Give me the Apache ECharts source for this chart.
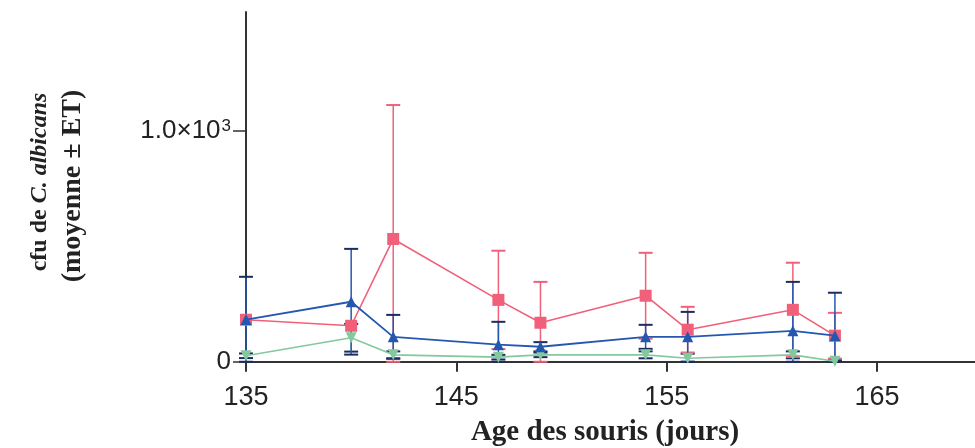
<!DOCTYPE html>
<html>
<head>
<meta charset="utf-8">
<script src="https://cdn.jsdelivr.net/npm/echarts@6/dist/echarts.min.js"></script>
<style>
  html, body { margin: 0; padding: 0; background: #ffffff; }
  #chart { width: 975px; height: 448px; }
</style>
</head>
<body>
<div id="chart"></div>
<script>
// Age of the mice (days) at each sampling point
const ages = [135, 140, 142, 147, 149, 154, 156, 161, 163];

// C. albicans cfu, mean and standard error per group
const redMean  = [182, 156, 532, 268, 169, 286, 139, 225, 113];
const redErr   = [0, 0, 580, 213, 177, 186, 99, 204, 99];
const blueMean = [183, 260, 108, 74, 65, 108, 108, 134, 113];
const blueErr  = [185, 229, 95, 99, 20, 52, 108, 212, 186];
const greenMean = [26, 104, 30, 20, 30, 30, 15, 30, 2];
const greenErr  = [10, 60, 15, 10, 10, 15, 20, 15, 5];

// Axis ticks and labels
const xTicks = [145, 155, 165];
const xLabels = [135, 145, 155, 165];
const yTicks = [0, 1000];
const yLabelText = { 0: '0', 1000: '1.0×10{sup|3}' };

const RED = '#f0607a';
const BLUE = '#2458b0';
const GREEN = '#84c89e';
const NAVY = '#1c2c60';

function pairs(mean) {
  return ages.map((a, i) => [a, mean[i]]);
}

function errorRows(mean, err) {
  return ages.map((a, i) => [a, Math.max(0, mean[i] - err[i]), mean[i] + err[i]]);
}

function errorSeries(name, mean, err, stemColor, capColor) {
  return {
    name: name,
    type: 'custom',
    data: errorRows(mean, err),
    z: 2,
    silent: true,
    renderItem: function (params, api) {
      const x = api.value(0);
      const lo = api.coord([x, api.value(1)]);
      const hi = api.coord([x, api.value(2)]);
      const half = 7;
      if (Math.abs(hi[1] - lo[1]) < 0.5) return { type: 'group', children: [] };
      return {
        type: 'group',
        children: [
          { type: 'line', shape: { x1: lo[0], y1: lo[1], x2: hi[0], y2: hi[1] },
            style: { stroke: stemColor, lineWidth: 1.5 } },
          { type: 'line', shape: { x1: hi[0] - half, y1: hi[1], x2: hi[0] + half, y2: hi[1] },
            style: { stroke: capColor, lineWidth: 2 } },
          { type: 'line', shape: { x1: lo[0] - half, y1: lo[1], x2: lo[0] + half, y2: lo[1] },
            style: { stroke: capColor, lineWidth: 2 } }
        ]
      };
    }
  };
}

const chart = echarts.init(document.getElementById('chart'), null, { renderer: 'canvas' });

chart.setOption({
  animation: false,
  backgroundColor: '#ffffff',
  grid: { left: 246, right: 0, top: 12, bottom: 77, containLabel: false, outerBoundsMode: 'none' },
  xAxis: {
    type: 'value',
    min: 135,
    max: 169.66,
    splitLine: { show: false },
    axisLine: { onZero: true, lineStyle: { color: '#333', width: 2 } },
    axisTick: { show: true, length: 10, customValues: xTicks, lineStyle: { color: '#333', width: 2 } },
    axisLabel: {
      customValues: xLabels,
      margin: 13,
      fontFamily: 'Liberation Sans',
      fontSize: 27,
      color: '#222'
    }
  },
  yAxis: {
    type: 'value',
    min: -40,
    max: 1515,
    splitLine: { show: false },
    axisLine: { show: true, lineStyle: { color: '#333', width: 2 } },
    axisTick: { show: true, length: 13, customValues: yTicks, lineStyle: { color: '#333', width: 1.5 } },
    axisLabel: {
      customValues: yTicks,
      margin: 15,
      fontFamily: 'Liberation Sans',
      fontSize: 26,
      color: '#222',
      formatter: function (v) { return yLabelText[v] !== undefined ? yLabelText[v] : ''; },
      rich: {
        sup: { fontFamily: 'Liberation Sans', fontSize: 17, color: '#222', verticalAlign: 'top', padding: [0, 0, 10, 1] }
      }
    }
  },
  graphic: [
    {
      type: 'text',
      x: 40,
      y: 182,
      rotation: Math.PI / 2,
      style: {
        text: '{a|cfu de }{b|C. albicans}',
        align: 'center',
        verticalAlign: 'middle',
        fill: '#222',
        rich: {
          a: { fontFamily: 'Liberation Serif', fontWeight: 'bold', fontSize: 24, fill: '#222' },
          b: { fontFamily: 'Liberation Serif', fontWeight: 'bold', fontStyle: 'italic', fontSize: 24, fill: '#222' }
        }
      }
    },
    {
      type: 'text',
      x: 73,
      y: 186,
      rotation: Math.PI / 2,
      style: {
        text: '(moyenne ± ET)',
        align: 'center',
        verticalAlign: 'middle',
        fontFamily: 'Liberation Serif',
        fontWeight: 'bold',
        fontSize: 28,
        fill: '#222'
      }
    },
    {
      type: 'text',
      x: 605,
      y: 433,
      style: {
        text: 'Age des souris (jours)',
        align: 'center',
        verticalAlign: 'middle',
        fontFamily: 'Liberation Serif',
        fontWeight: 'bold',
        fontSize: 29,
        fill: '#222'
      }
    }
  ],
  series: [
    errorSeries('greenErr', greenMean, greenErr, GREEN, NAVY),
    errorSeries('redErr', redMean, redErr, RED, RED),
    errorSeries('blueErr', blueMean, blueErr, BLUE, NAVY),
    {
      name: 'green',
      type: 'line',
      data: pairs(greenMean),
      z: 3,
      symbol: 'triangle',
      symbolRotate: 180,
      symbolSize: 11,
      lineStyle: { color: GREEN, width: 1.6 },
      itemStyle: { color: GREEN }
    },
    {
      name: 'red',
      type: 'line',
      data: pairs(redMean),
      z: 4,
      symbol: 'rect',
      symbolSize: 12,
      lineStyle: { color: RED, width: 1.6 },
      itemStyle: { color: RED }
    },
    {
      name: 'blue',
      type: 'line',
      data: pairs(blueMean),
      z: 5,
      symbol: 'triangle',
      symbolSize: 11,
      lineStyle: { color: BLUE, width: 1.8 },
      itemStyle: { color: BLUE }
    }
  ]
});
</script>
</body>
</html>
